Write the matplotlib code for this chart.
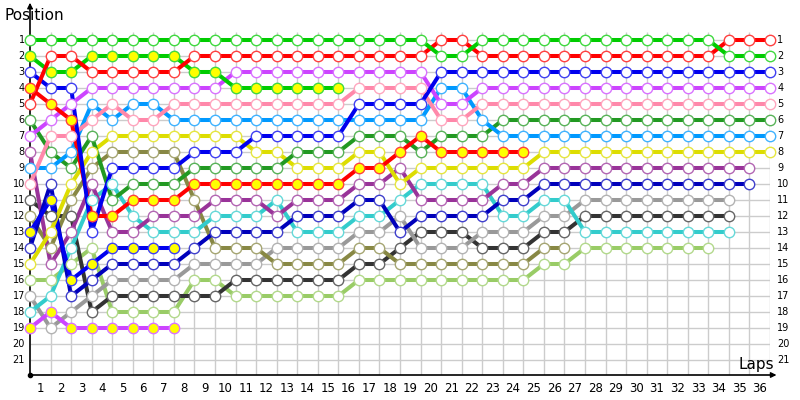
import matplotlib
matplotlib.use("Agg")
import matplotlib.pyplot as plt
import matplotlib.colors as mcolors
import numpy as np

# ---------------- data (position per lap, starting at lap 0 = grid) ----------------
laps = list(range(0, 37))
lap_labels = [str(i) for i in range(1, 37)]
positions = list(range(1, 22))

green_a = [1,1,1,1,1,1,1,1,1,1, 1,1,1,1,1,1,1,1,1,1, 2,2,1,1,1,1,1,1,1,1, 1,1,1,1,2,2,2]
red_a = [5,2,2,3,3,3,3,3,2,2, 2,2,2,2,2,2,2,2,2,2, 1,1,2,2,2,2,2,2,2,2, 2,2,2,2,1,1,1]
green_b = [2,3,3,2,2,2,2,2,3,3, 4,4,4,4,4,4]
blue_a = [3,4,4,13,9,9,9,9,8,8, 8,7,7,7,7,7,5,5,5,5, 3,3,3,3,3,3,3,3,3,3, 3,3,3,3,3,3,3]
red_b = [4,5,6,12,12,11,11,11,10,10, 10,10,10,10,10,10,9,9,8,7, 8,8,8,8,8]
magenta_a = [7,6,5,4,4,4,4,4,4,4, 3,3,3,3,3,3,3,3,3,3, 5,5,4,4,4,4,4,4,4,4, 4,4,4,4,4,4,4]
pink = [10,7,7,6,5,6,6,5,5,5, 5,5,5,5,5,5,4,4,4,4, 6,6,5,5,5,5,5,5,5,5, 5,5,5,5,5,5,5]
light_blue = [9,9,8,5,6,5,5,6,6,6, 6,6,6,6,6,6,6,6,6,6, 4,4,6,7,7,7,7,7,7,7, 7,7,7,7,7,7,7]
dark_green = [6,8,9,7,11,10,10,10,9,9, 9,9,9,8,8,8,7,7,7,8, 7,7,7,6,6,6,6,6,6,6, 6,6,6,6,6,6,6]
yellow = [15,13,10,8,7,7,7,7,7,7, 7,8,8,9,9,9,8,8,10,9, 9,9,9,9,9,8,8,8,8,8, 8,8,8,8,8,8,8]
olive = [12,14,11,9,8,8,8,8,11,14, 14,14,15,15,15,15,14,14,15,15, 15,15,15,15,15,14,14]
purple = [8,15,13,10,13,13,12,12,12,11, 11,11,12,11,11,11,10,10,9,11, 11,11,11,10,10,9,9,9,9,9, 9,9,9,9,9,9]
cyan = [18,17,14,11,10,12,13,13,13,12, 12,12,11,13,13,13,12,12,11,10, 10,10,10,12,12,11,11,13,13,13, 13,13,13,13,13]
dark_blue = [14,10,17,16,15,15,15,15,14,13, 13,13,13,12,12,12,11,11,13,12, 12,12,12,11,11,10,10,10,10,10, 10,10,10,10,10,10]
blue_b = [13,11,16,15,14,14,14,14]
gray = [17,19,18,17,16,16,16,16,15,15, 15,15,14,14,14,14,13,13,12,14, 14,14,13,13,13,12,12,11,11,11, 11,11,11,11,11]
black = [11,12,12,18,17,17,17,17,17,17, 16,16,16,16,16,16,15,15,14,13, 13,13,14,14,14,13,13,12,12,12, 12,12,12,12,12]
light_green = [16,16,15,14,18,18,18,18,16,16, 17,17,17,17,17,17,16,16,16,16, 16,16,16,16,16,15,15,14,14,14, 14,14,14,14]
magenta_b = [19,18,19,19,19,19,19,19]

# (series, line colour, marker fill)
drivers = [
    (light_green, "#99cc66", "white"),
    (black, "#333333", "white"),
    (gray, "#999999", "white"),
    (olive, "#888844", "white"),
    (cyan, "#33cccc", "white"),
    (purple, "#993399", "white"),
    (dark_blue, "#0000bb", "white"),
    (magenta_b, "#cc44ff", "#ffff00"),
    (blue_b, "#0000ee", "#ffff00"),
    (yellow, "#dddd00", "white"),
    (dark_green, "#229922", "white"),
    (light_blue, "#0099ff", "white"),
    (pink, "#ff88aa", "white"),
    (magenta_a, "#cc44ff", "white"),
    (red_b, "#ff0000", "#ffff00"),
    (blue_a, "#0000ee", "white"),
    (green_b, "#00cc00", "#ffff00"),
    (red_a, "#ff0000", "white"),
    (green_a, "#00cc00", "white"),
]

# ---------------- figure ----------------
W, H = 800, 400
fig = plt.figure(figsize=(8, 4), dpi=100)
fig.patch.set_facecolor("white")
# axes: x 0..36 -> px 30..770 ; y pos -1.5..21.9375 -> px 0..375
ax = fig.add_axes([30 / W, (H - 375) / H, 740 / W, 375 / H])
ax.set_xlim(0, 36)
ax.set_ylim(21.9375, -1.5)
ax.set_axis_off()

grid_c = "#cccccc"
for k in range(1, 37):
    ax.plot([k, k], [0.5, 21.9375], color=grid_c, lw=1.0, zorder=1, solid_capstyle="butt")
for p in positions:
    ax.plot([0, 36], [p, p], color=grid_c, lw=1.0, zorder=1, solid_capstyle="butt")

# axes lines with arrows
ax.plot([0, 0], [21.9375, -1.2], color="black", lw=1.2, zorder=5, clip_on=False)
ax.plot([0, 36.2], [21.9375, 21.9375], color="black", lw=1.2, zorder=5, clip_on=False)
ax.annotate("", xy=(0, -1.5), xytext=(0, -0.8),
            arrowprops=dict(arrowstyle="-|>", color="black", lw=1.0, mutation_scale=8),
            annotation_clip=False, zorder=6)
ax.annotate("", xy=(36.45, 21.9375), xytext=(35.9, 21.9375),
            arrowprops=dict(arrowstyle="-|>", color="black", lw=1.0, mutation_scale=8),
            annotation_clip=False, zorder=6)
ax.plot([0], [21.9375], marker="o", ms=3, color="black", zorder=6, clip_on=False)

def lighten(c, f=0.3):
    r, g, b = mcolors.to_rgb(c)
    return (r + (1 - r) * f, g + (1 - g) * f, b + (1 - b) * f)

for i, (series, col, face) in enumerate(drivers):
    xs = laps[:len(series)]
    ax.plot(xs, series, color=col, lw=2.9, zorder=10 + i, solid_joinstyle="round",
            solid_capstyle="round", clip_on=False)
for i, (series, col, face) in enumerate(drivers):
    xs = laps[:len(series)]
    ax.plot(xs, series, linestyle="none", marker="o", ms=7.5, mfc=face,
            mec=lighten(col, 0.25), mew=1.0, zorder=40 + i, clip_on=False)

# tick labels
for p in positions:
    ax.text(-0.25, p, str(p), ha="right", va="center", fontsize=7, clip_on=False)
    ax.text(36.35, p, str(p), ha="left", va="center", fontsize=7, clip_on=False)
for k, lab in enumerate(lap_labels, start=1):
    ax.text(k - 0.5, 22.75, lab, ha="center", va="center", fontsize=8.5, clip_on=False)

fig.text(4 / W, 1 - 15 / H, "Position", ha="left", va="center", fontsize=11)
fig.text(774 / W, 1 - 365 / H, "Laps", ha="right", va="center", fontsize=11)

fig.savefig("out.png", dpi=100)
